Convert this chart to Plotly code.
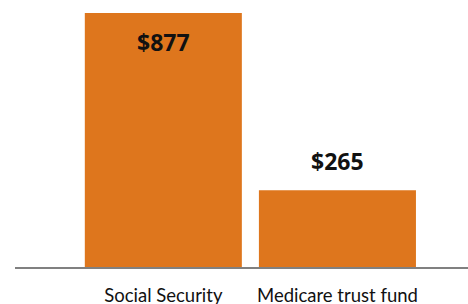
import plotly.graph_objects as go

categories = ["Social Security", "Medicare trust fund"]
values = [877, 265]
value_labels = ["$877", "$265"]

bar_color = "#DE761D"

fig = go.Figure()
fig.add_trace(go.Bar(
    x=categories, y=values,
    marker=dict(color=bar_color, line=dict(width=0)),
    hoverinfo="skip",
))

# value labels: first inside near top, second above bar
fig.add_annotation(x=categories[0], y=values[0], text="<b>" + value_labels[0] + "</b>",
                   showarrow=False, yanchor="top", yshift=-11,
                   font=dict(family="Open Sans", size=23, color="#111111"))
fig.add_annotation(x=categories[1], y=values[1], text="<b>" + value_labels[1] + "</b>",
                   showarrow=False, yanchor="bottom", yshift=11,
                   font=dict(family="Open Sans", size=23, color="#111111"))

fig.update_layout(
    width=468, height=304,
    margin=dict(l=15, r=0, t=0, b=37),
    paper_bgcolor="white", plot_bgcolor="white",
    showlegend=False,
    bargap=0.098,
    xaxis=dict(
        range=[-0.852, 1.75],
        showline=True, linecolor="#808080", linewidth=1.5,
        showgrid=False, zeroline=False, ticks="",
        tickfont=dict(family="Lato", size=18.5, color="#111111"),
        ticklabelstandoff=11,
        automargin=False,
    ),
    yaxis=dict(
        range=[0, 922], visible=False, showgrid=False, zeroline=False,
    ),
)

fig.write_html("out.html", config={"displayModeBar": False},
               post_script="document.body.style.margin='0';document.body.style.padding='0';")
